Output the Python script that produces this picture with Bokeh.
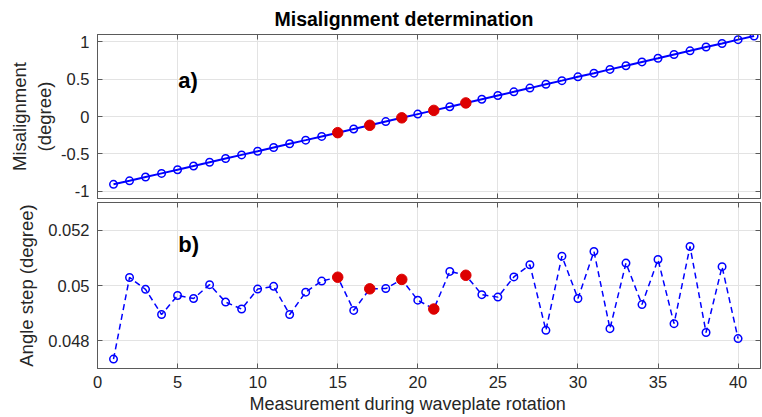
from bokeh.plotting import figure
from bokeh.layouts import column
from bokeh.models import (LinearAxis, FixedTicker, CustomJSTickFormatter, Range1d, Label,
                          CustomLabelingPolicy, Title)
from bokeh.embed import file_html
from bokeh.resources import INLINE

# ---------------- data ----------------
meas_top = list(range(1, 42))
misalignment = [-0.910, -0.863, -0.812, -0.763, -0.714, -0.664, -0.614, -0.564, -0.515, -0.466,
                -0.416, -0.366, -0.317, -0.267, -0.217, -0.167, -0.118, -0.068, -0.018, 0.032,
                0.082, 0.131, 0.182, 0.232, 0.282, 0.331, 0.381, 0.432, 0.481, 0.532,
                0.581, 0.632, 0.681, 0.732, 0.781, 0.832, 0.881, 0.932, 0.980, 1.031, 1.079]
meas_step = list(range(1, 41))
angle_step = [0.04734, 0.05029, 0.04986, 0.04895, 0.04964, 0.04953, 0.05003, 0.04940, 0.04915, 0.04987,
              0.04997, 0.04895, 0.04976, 0.05016, 0.05030, 0.04910, 0.04988, 0.04989, 0.05022, 0.04947,
              0.04915, 0.05051, 0.05037, 0.04967, 0.04958, 0.05031, 0.05075, 0.04838, 0.05106, 0.04953,
              0.05123, 0.04844, 0.05081, 0.04931, 0.05094, 0.04862, 0.05141, 0.04830, 0.05068, 0.04808]
highlight = [15, 17, 19, 21, 23]
x_ticks = [0, 5, 10, 15, 20, 25, 30, 35, 40]
top_y_ticks = [-1, -0.5, 0, 0.5, 1]
bot_y_ticks = [0.048, 0.05, 0.052]

FONT = "Liberation Sans"
AX = "#5a5a5a"
TXT = "#262626"
GRID = "#e3e3e3"
BLUE = "#0000ff"
RED = "#dd0000"

fmt = CustomJSTickFormatter(code="return String(tick);")
blank_fmt = CustomJSTickFormatter(code="return '';")
no_labels = CustomLabelingPolicy(code="return new Set();")


def style(p, yticks, show_x_labels):
    p.outline_line_color = AX
    p.outline_line_width = 1
    p.background_fill_color = "white"
    p.border_fill_color = "white"
    p.xgrid.ticker = FixedTicker(ticks=x_ticks)
    p.ygrid.ticker = FixedTicker(ticks=yticks)
    for g in (p.xgrid, p.ygrid):
        g.grid_line_color = GRID
        g.grid_line_width = 1
    # extra box axes (ticks only)
    p.add_layout(LinearAxis(), "above")
    p.add_layout(LinearAxis(), "right")
    for ax in p.xaxis:
        ax.ticker = FixedTicker(ticks=x_ticks)
    for ax in p.yaxis:
        ax.ticker = FixedTicker(ticks=yticks)
        ax.formatter = fmt
    for ax in list(p.xaxis) + list(p.yaxis):
        ax.axis_line_color = AX
        ax.major_tick_line_color = AX
        ax.major_tick_in = 5
        ax.major_tick_out = 0
        ax.minor_tick_line_color = None
        ax.major_label_text_font = FONT
        ax.major_label_text_font_size = "16.5px"
        ax.major_label_text_color = TXT
        ax.axis_label_text_font = FONT
        ax.axis_label_text_font_size = "18.5px"
        ax.axis_label_text_font_style = "normal"
        ax.axis_label_text_color = TXT
    bare = [p.above[0], p.right[0]]
    if not show_x_labels:
        bare.append(p.below[0])
    for ax in bare:
        ax.formatter = blank_fmt
        ax.major_label_policy = no_labels
        ax.major_label_text_font_size = "0px"
        ax.major_label_standoff = 0
    p.left[0].major_label_standoff = 8
    if show_x_labels:
        p.below[0].major_label_standoff = 7


# ---------------- top panel ----------------
p1 = figure(width=761, height=200, x_range=Range1d(0, 41.4), y_range=Range1d(-1.1, 1.1),
            output_backend="svg", toolbar_location=None,
            min_border_left=97, min_border_right=1, min_border_top=34, min_border_bottom=2,
            title="Misalignment determination")
p1.title.align = "left"
p1.title.offset = 177
p1.title.text_font = FONT
p1.title.text_font_size = "19.5px"
p1.title.text_font_style = "bold"
p1.title.text_color = "black"
p1.title.standoff = 10
style(p1, top_y_ticks, False)
p1.left[0].axis_label = "Misalignment\n(degree)"
p1.left[0].axis_label_standoff = 3

p1.line(meas_top, misalignment, line_color=BLUE, line_width=2)
p1.scatter(meas_top, misalignment, marker="circle", size=7.5, fill_color=None,
           line_color=BLUE, line_width=1.5)
hx = highlight
hy = [misalignment[i - 1] for i in highlight]
p1.scatter(hx, hy, marker="circle", size=10.5, fill_color=RED, line_color=RED)
p1.add_layout(Label(x=5.05, y=0.48, text="a)", text_font=FONT, text_font_size="22px",
                    text_font_style="bold", text_baseline="middle", text_color="black"))

# ---------------- bottom panel ----------------
p2 = figure(width=761, height=216, x_range=p1.x_range, y_range=Range1d(0.047, 0.053),
            output_backend="svg", toolbar_location=None,
            min_border_left=97, min_border_right=1, min_border_top=2, min_border_bottom=48)
style(p2, bot_y_ticks, True)
p2.left[0].axis_label = "Angle step (degree)"
p2.left[0].axis_label_standoff = 8
xlabel = Title(text="Measurement during waveplate rotation", align="left", offset=152,
               text_font=FONT, text_font_size="18px", text_font_style="normal",
               text_color=TXT, standoff=2)
p2.add_layout(xlabel, "below")

p2.line(meas_step, angle_step, line_color=BLUE, line_width=1.5, line_dash="6 4")
p2.scatter(meas_step, angle_step, marker="circle", size=7.5, fill_color=None,
           line_color=BLUE, line_width=1.5)
hy2 = [angle_step[i - 1] for i in highlight]
p2.scatter(hx, hy2, marker="circle", size=10.5, fill_color=RED, line_color=RED)
p2.add_layout(Label(x=5.05, y=0.05149, text="b)", text_font=FONT, text_font_size="22px",
                    text_font_style="bold", text_baseline="middle", text_color="black"))

layout = column(p1, p2, spacing=0)
open("out.html", "w").write(file_html(layout, INLINE))
